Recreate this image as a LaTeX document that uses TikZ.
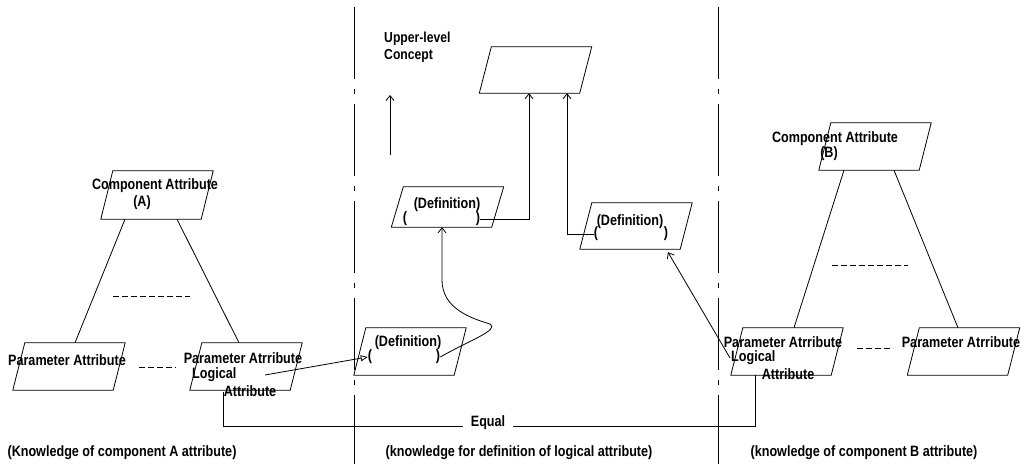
\documentclass[tikz,border=0pt]{standalone}
\usepackage{fontspec}
\setmainfont{Liberation Sans}[FakeStretch=0.84]
\usetikzlibrary{arrows.meta,calc}
\newcommand\pgram[4]{%
  \node[pgbox,minimum height=#4pt] (#1) at (#2,#3) {};
  \draw[ln] ([xshift=6pt]#1.north west) -- ([xshift=6pt]#1.north east)
    -- ([xshift=-6pt]#1.south east) -- ([xshift=-6pt]#1.south west) -- cycle;}
\begin{document}
\begin{tikzpicture}[x=1pt,y=-1pt,
  pgbox/.style={inner sep=0pt, minimum width=100pt, draw=none},
  txt/.style={font=\bfseries\fontsize{15}{17}\selectfont, inner sep=0pt},
  ln/.style={line width=0.8pt},
  arr/.style={ln, -{Straight Barb[length=5pt,width=8pt]}},
  oarr/.style={ln, -{Triangle[open,length=7pt,width=6pt]}},
  divider/.style={line width=0.9pt, dash pattern=on 72pt off 10pt on 5pt off 10pt, dash phase=-7pt},
  dsh/.style={line width=0.8pt, dash pattern=on 6pt off 3pt}]
\useasboundingbox (0,0) rectangle (1022,464);
\fill[white] (0,0) rectangle (1022,464);

% dividers
\coordinate (v1t) at (354,0); \coordinate (v1b) at (354,464);
\coordinate (v2t) at (718,0); \coordinate (v2b) at (718,464);
\draw[divider] (v1t) -- (v1b);
\draw[divider] (v2t) -- (v2b);

% boxes
\pgram{top}{535.5}{70}{46}
\pgram{defA}{447.5}{207}{40}
\pgram{defB}{636}{226}{46}
\pgram{defC}{410}{351.5}{47}
\pgram{compA}{157}{195}{48}
\pgram{parL}{69}{366.5}{47}
\pgram{logA}{246}{366.5}{47}
\pgram{compB}{875}{146.5}{47}
\pgram{logB}{787}{351.5}{47}
\pgram{parR}{963.5}{351.5}{47}

% texts
\node[txt,anchor=north west,align=left,font=\bfseries\fontsize{14.5}{17}\selectfont] (ulc) at (384,32) {Upper-level\\Concept};
\node[txt] (ca1) at (155,186) {Component Attribute};
\node[txt] (ca2) at (142,203) {(A)};
\node[txt] (pl) at (67,360) {Parameter Attribute};
\node[txt] (la1) at (243,358) {Parameter Atrribute};
\node[txt,anchor=west] (la2) at (192,375) {Logical};
\node[txt] (la3) at (250,391) {Attribute};
\node[txt] (d1t) at (447,205) {(Definition)};
\node[txt] (d1l) at (405,219) {(};
\node[txt] (d1r) at (478,219) {)};
\node[txt] (d2t) at (630,222) {(Definition)};
\node[txt] (d2l) at (596,234) {(};
\node[txt] (d2r) at (666,234) {)};
\node[txt] (d3t) at (408,343) {(Definition)};
\node[txt] (d3l) at (370,357) {(};
\node[txt] (d3r) at (438,357) {)};
\node[txt] (cb1) at (835,139) {Component Attribute};
\node[txt] (cb2) at (829,154) {(B)};
\node[txt] (lb1) at (783,342) {Parameter Atrribute};
\node[txt,anchor=west] (lb2) at (731,358) {Logical};
\node[txt] (lb3) at (788,374) {Attribute};
\node[txt] (pr) at (961,342) {Parameter Atrribute};
\node[txt] (capA) at (122,453) {(Knowledge of component A attribute)};
\node[txt] (capM) at (519,453) {(knowledge for definition of logical attribute)};
\node[txt] (capB) at (864,453) {(knowledge of component B attribute)};

% tree lines
\draw[ln] ([xshift=-32pt]compA.south) -- ([xshift=6pt]parL.north);
\draw[ln] ([xshift=20pt]compA.south) -- ([xshift=-7pt]logA.north);
\draw[ln] ([xshift=-31pt]compB.south) -- ([xshift=7pt]logB.north);
\draw[ln] ([xshift=19pt]compB.south) -- ([xshift=-5.5pt]parR.north);
\draw[dsh] (113,296) -- (190,296);
\draw[dsh] (139,367) -- (176,367);
\draw[dsh] (832,265) -- (908,265);
\draw[dsh] (857,348) -- (893,348);

% upper-level arrow
\coordinate (ua1) at (390,155); \coordinate (ua2) at (390,95);
\draw[arr] (ua1) -- (ua2);

% definition arrows
\draw[arr] (d1r.east) -| ([xshift=-6.5pt]top.south);
\draw[arr] (d2l.west) -| ([xshift=31.5pt]top.south);
\draw[arr] (d3r.east) .. controls (468,341) and (500,330) .. (490,324)
  .. controls (470,318) and (442,308) .. (442,280) -- ([xshift=-5.5pt]defA.south);
\coordinate (laS) at (265,375);
\draw[oarr] (laS) -- (d3l.west);
\coordinate (lbS) at (730,358);
\draw[arr] (lbS) -- ([xshift=32pt,yshift=-3pt]defB.south);

% equal
\draw[ln] ([xshift=-23pt,yshift=-2pt]logA.south) -- ++(0,34) -| ([xshift=-32pt]logB.south);
\node[txt,fill=white,inner xsep=8pt,inner ysep=2pt] (eq) at (488,423) {Equal};
\end{tikzpicture}
\end{document}
